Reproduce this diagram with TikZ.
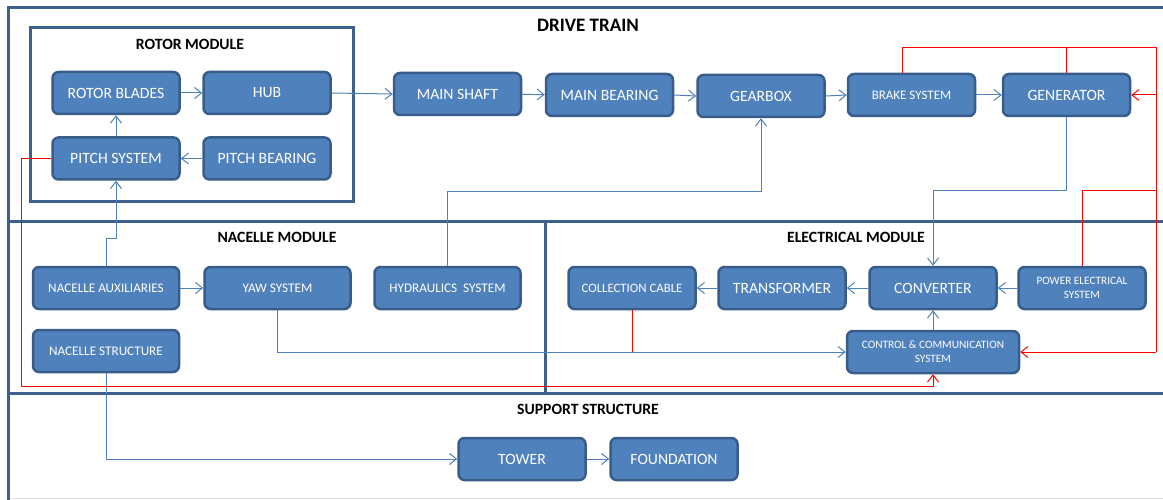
\documentclass[tikz,border=0pt]{standalone}
\usepackage{fontspec}
\setmainfont{Carlito}
\usetikzlibrary{arrows.meta}
\definecolor{boxfill}{RGB}{79,129,189}
\definecolor{boxdraw}{RGB}{56,93,138}
\definecolor{framecol}{RGB}{62,96,140}
\definecolor{linecol}{RGB}{79,129,189}
\tikzset{
 blk/.style={draw=boxdraw, fill=boxfill, line width=2.5pt, rounded corners=6pt, text=white, minimum width=127pt, minimum height=42pt, inner sep=0pt, align=center, font=\fontsize{15.7}{18}\selectfont},
 wide/.style={minimum width=146pt},
 sm/.style={font=\fontsize{13.2}{15}\selectfont},
 xs/.style={font=\fontsize{11.3}{14}\selectfont},
 conn/.style={draw=linecol, line width=1pt, -{Straight Barb[length=7pt,width=11pt]}},
 rconn/.style={draw=red, line width=1pt, -{Straight Barb[length=7pt,width=11pt]}},
 rplain/.style={draw=red, line width=1pt},
 frame/.style={draw=framecol, line width=3pt},
 ttl/.style={font=\bfseries\fontsize{15.7}{18}\selectfont, inner sep=0pt}
}
\begin{document}
\begin{tikzpicture}[x=1pt,y=-1pt]
\useasboundingbox (0,0) rectangle (1163,500);
% frames
\draw[gray!25, line width=1pt] (8,498) -- (1163,498);
\draw[frame] (8,500) -- (8,8) -- (1163,8);
\draw[frame] (8,222) -- (1163,222);
\draw[frame] (8,393) -- (1163,393);
\draw[frame] (545,222) -- (545,393);
\draw[frame] (30,28) rectangle (353,202);
% titles
\node[ttl, font=\bfseries\fontsize{19}{22}\selectfont] (tdt) at (588,25) {DRIVE TRAIN};
\node[ttl] (trm) at (190,44) {ROTOR MODULE};
\node[ttl] (tnm) at (277,237) {NACELLE MODULE};
\node[ttl] (tem) at (856,237) {ELECTRICAL MODULE};
\node[ttl] (tss) at (588,409) {SUPPORT STRUCTURE};
% drive train nodes
\node[blk] (rb) at (116,93) {ROTOR BLADES};
\node[blk] (hub) at (267,93) {HUB};
\node[blk] (ps) at (116,158.5) {PITCH SYSTEM};
\node[blk] (pb) at (267,158.5) {PITCH BEARING};
\node[blk] (ms) at (457.5,94) {MAIN SHAFT};
\node[blk] (mb) at (609.5,95) {MAIN BEARING};
\node[blk] (gb) at (761,96) {GEARBOX};
\node[blk, font=\fontsize{13}{15}\selectfont] (brk) at (911.5,95) {BRAKE SYSTEM};
\node[blk] (gen) at (1066.5,95) {GENERATOR};
% nacelle nodes
\node[blk, wide, sm] (aux) at (106,288) {NACELLE AUXILIARIES};
\node[blk, wide, sm] (yaw) at (277.5,288) {YAW SYSTEM};
\node[blk, wide, sm] (hyd) at (447.5,288) {HYDRAULICS\ \ SYSTEM};
\node[blk, wide, sm] (nst) at (106,351) {NACELLE STRUCTURE};
% electrical nodes
\node[blk, font=\fontsize{12.8}{15}\selectfont] (cc) at (632,288) {COLLECTION CABLE};
\node[blk] (tr) at (782,288) {TRANSFORMER};
\node[blk] (conv) at (933,288) {CONVERTER};
\node[blk, xs] (pes) at (1082,288) {POWER ELECTRICAL\\SYSTEM};
\node[blk, xs, minimum width=172pt] (ctrl) at (933,352) {CONTROL \& COMMUNICATION\\SYSTEM};
% support nodes
\node[blk] (tower) at (522,459) {TOWER};
\node[blk] (fdn) at (674,459) {FOUNDATION};
% coordinates
\coordinate (hydj) at (447.5,192);
\coordinate (rl) at (21,386);
\coordinate (rtop) at (1156,48);
\coordinate (rmid) at (1156,191);
\coordinate (rbot) at (1156,352);
% blue connectors
\draw[conn] (rb) -- (hub);
\draw[conn] (hub.east) -- (ms.west);
\draw[conn] (ms) -- (mb);
\draw[conn] (mb.east) -- (gb.west);
\draw[conn] (gb.east) -- (brk.west);
\draw[conn] (brk) -- (gen);
\draw[conn] (ps) -- (rb);
\draw[conn] (pb) -- (ps);
\draw[conn] (aux.north) -- ++(0,-27) -| (ps.south);
\draw[conn] (aux) -- (yaw);
\draw[conn] (hyd.north) -- (hydj) -| (gb.south);
\draw[conn] (gen.south) -- ++(0,73.5) -| (conv.north);
\draw[conn] (yaw.south) |- (ctrl.west);
\draw[conn] (tr) -- (cc);
\draw[conn] (conv) -- (tr);
\draw[conn] (pes) -- (conv);
\draw[conn] (ctrl) -- (conv);
\draw[conn] (nst.south) |- (tower.west);
\draw[conn] (tower) -- (fdn);
% red connectors
\draw[rplain] (cc.south) -- (cc.south |- ctrl.west);
\draw[rconn] (ps.west) -| (rl) -| (ctrl.south);
\draw[rplain] ([xshift=-9pt]brk.north) |- (rtop) -- (rbot);
\draw[rplain] (gen.north) -- (gen.north |- rtop);
\draw[rconn] (rtop |- gen.east) -- (gen.east);
\draw[rplain] (pes.north) |- (rmid);
\draw[rconn] (rbot) -- (ctrl.east);
\end{tikzpicture}
\end{document}
